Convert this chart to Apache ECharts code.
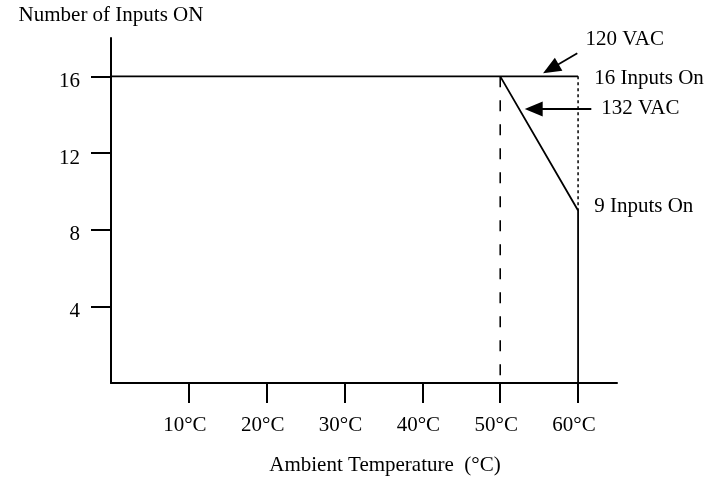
<!DOCTYPE html>
<html>
<head>
<meta charset="utf-8">
<script src="https://cdn.jsdelivr.net/npm/echarts@6/dist/echarts.min.js"></script>
<style>
  html, body { margin: 0; padding: 0; background: #fff; }
  #chart { width: 710px; height: 483px; }
</style>
</head>
<body>
<div id="chart"></div>
<script>
// derating curves (temperature in °C, inputs ON)
var temp120 = [0, 60];
var inputs120 = [16, 16];
var temp132 = [50, 60, 60];
var inputs132 = [16, 9, 0];
var tempDashed = [50, 50];
var inputsDashed = [16, 0];
var tempDotted = [60, 60];
var inputsDotted = [16, 9];

var xTicks = [10, 20, 30, 40, 50, 60];
var yTicks = [4, 8, 12, 16];

// notes on the right side
var noteText = ['120 VAC', '16 Inputs On', '132 VAC', '9 Inputs On'];
var noteX = [60.9, 62.0, 62.9, 62.0];
var noteY = [17.9, 15.9, 14.3, 9.2];

// arrows: [fromX, fromY, toX, toY]
var arrow120 = [59.9, 17.2, 56.5, 16.4];
var arrow132 = [61.7, 14.3, 54.3, 14.3];

var FONT = 'Liberation Serif';
var BLACK = '#000';
var FS = 21;

function pairs(xs, ys) {
  return xs.map(function (x, i) { return [x, ys[i]]; });
}

function arrow(a) {
  return [
    { coord: [a[0], a[1]], symbol: 'none' },
    { coord: [a[2], a[3]], symbol: 'triangle', symbolSize: [15, 18] }
  ];
}

var chart = echarts.init(document.getElementById('chart'));

var lineBase = {
  type: 'line',
  symbol: 'none',
  silent: true,
  animation: false
};

chart.setOption({
  animation: false,
  grid: { left: 111, right: 93, top: 38, bottom: 100 },
  xAxis: {
    type: 'value',
    min: 0,
    max: 65,
    name: 'Ambient Temperature  (°C)',
    nameLocation: 'middle',
    nameGap: 72,
    nameTextStyle: { fontFamily: FONT, fontSize: FS, color: BLACK, padding: [0, 0, 0, 42] },
    axisLine: { show: true, lineStyle: { color: BLACK, width: 2 } },
    axisTick: { show: true, length: 20, customValues: xTicks, lineStyle: { color: BLACK, width: 2 } },
    axisLabel: {
      customValues: xTicks,
      margin: 32,
      fontFamily: FONT, fontSize: FS, color: BLACK,
      padding: [0, 8, 0, 0],
      formatter: function (v) { return v + '°C'; }
    },
    splitLine: { show: false }
  },
  yAxis: {
    type: 'value',
    min: 0,
    max: 18,
    name: 'Number of Inputs ON',
    nameLocation: 'end',
    nameGap: 12,
    nameTextStyle: { fontFamily: FONT, fontSize: FS, color: BLACK },
    axisLine: { show: true, lineStyle: { color: BLACK, width: 2 } },
    axisTick: { show: true, length: 20, customValues: yTicks, lineStyle: { color: BLACK, width: 2 } },
    axisLabel: {
      customValues: yTicks,
      margin: 31,
      fontFamily: FONT, fontSize: FS, color: BLACK,
      verticalAlign: 'top',
      lineHeight: 10
    },
    splitLine: { show: false }
  },
  series: [
    Object.assign({}, lineBase, {
      name: '120 VAC',
      data: pairs(temp120, inputs120),
      lineStyle: { color: BLACK, width: 1.8 },
      markLine: {
        silent: true,
        animation: false,
        symbol: ['none', 'triangle'],
        label: { show: false },
        lineStyle: { color: BLACK, width: 1.8, type: 'solid' },
        itemStyle: { color: BLACK },
        data: [arrow(arrow120), arrow(arrow132)]
      }
    }),
    Object.assign({}, lineBase, {
      name: '132 VAC',
      data: pairs(temp132, inputs132),
      lineStyle: { color: BLACK, width: 1.8 }
    }),
    Object.assign({}, lineBase, {
      name: 'dashed',
      data: pairs(tempDashed, inputsDashed),
      lineStyle: { color: BLACK, width: 1.6, type: [11, 13] }
    }),
    Object.assign({}, lineBase, {
      name: 'dotted',
      data: pairs(tempDotted, inputsDotted),
      lineStyle: { color: BLACK, width: 1.5, type: [3, 3] }
    }),
    {
      type: 'scatter',
      name: 'notes',
      silent: true,
      animation: false,
      symbolSize: 1,
      itemStyle: { color: 'rgba(0,0,0,0)', opacity: 1 },
      data: noteX.map(function (x, i) { return [x, noteY[i], noteText[i]]; }),
      label: {
        show: true,
        position: 'right',
        distance: 0,
        fontFamily: FONT, fontSize: FS, color: BLACK,
        formatter: function (p) { return p.value[2]; }
      }
    }
  ]
});
</script>
</body>
</html>
